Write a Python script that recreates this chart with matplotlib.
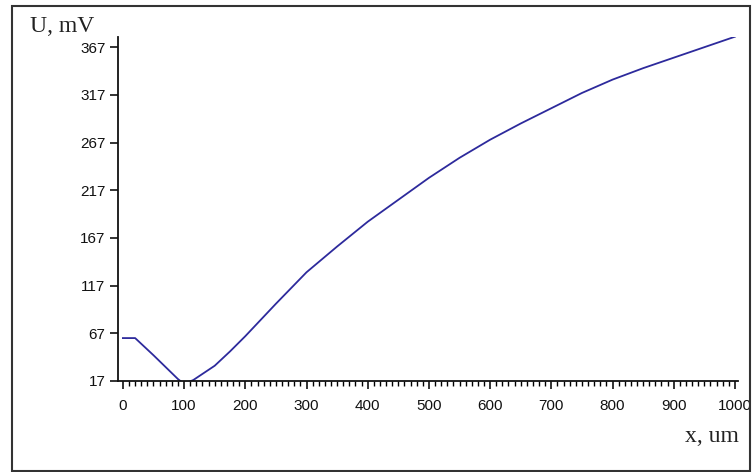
import numpy as np
import matplotlib.pyplot as plt
from matplotlib.patches import Rectangle
from matplotlib.ticker import MultipleLocator

# potential along the x coordinate
x_um = [0, 20, 50, 90, 100, 115, 150, 175, 200, 225, 250, 300, 350, 400, 450, 500,
        550, 600, 650, 700, 750, 800, 850, 900, 950, 1000]
u_mv = [62, 62, 44, 19, 14, 18, 33, 48, 64, 81, 98, 131, 158, 184, 207, 230,
        251, 270, 287, 303, 319, 333, 345, 356, 367, 378]

y_ticks = [17, 67, 117, 167, 217, 267, 317, 367]
x_ticks = [0, 100, 200, 300, 400, 500, 600, 700, 800, 900, 1000]

fig = plt.figure(figsize=(7.53, 4.72), dpi=100)
ax = fig.add_axes([118/753, 1 - 381/472, (738 - 118)/753, (381 - 36.7)/472])

ax.plot(x_um, u_mv, color='#2d2a9c', lw=1.3)

ax.set_xlim(-8, 1005)
ax.set_ylim(17, 378)
ax.set_xticks(x_ticks)
ax.set_yticks(y_ticks)
ax.xaxis.set_minor_locator(MultipleLocator(10))

for s in ['top', 'right']:
    ax.spines[s].set_visible(False)
for s in ['left', 'bottom']:
    ax.spines[s].set_linewidth(1.3)
    ax.spines[s].set_color('#111111')

ax.tick_params(axis='both', which='major', length=6, width=1.2, direction='out',
               labelsize=11, colors='#111111')
ax.tick_params(axis='x', which='minor', length=3.5, width=1.0, direction='out')
ax.tick_params(axis='x', pad=7)
ax.tick_params(axis='y', pad=3)
for lab in ax.get_xticklabels() + ax.get_yticklabels():
    lab.set_family('Liberation Sans')

fig.text(30/753, 1 - 27/472, 'U, mV', family='Liberation Serif', fontsize=17,
         ha='left', va='center', color='#222222')
fig.text(739/753, 1 - 437/472, 'x, um', family='Liberation Serif', fontsize=17,
         ha='right', va='center', color='#222222')

# outer frame
fig.patches.append(Rectangle((12/753, 1 - 471/472), (750 - 12)/753, (471 - 6)/472,
                             transform=fig.transFigure, fill=False,
                             edgecolor='#333333', lw=1.5))

fig.savefig('out.png', dpi=100)
